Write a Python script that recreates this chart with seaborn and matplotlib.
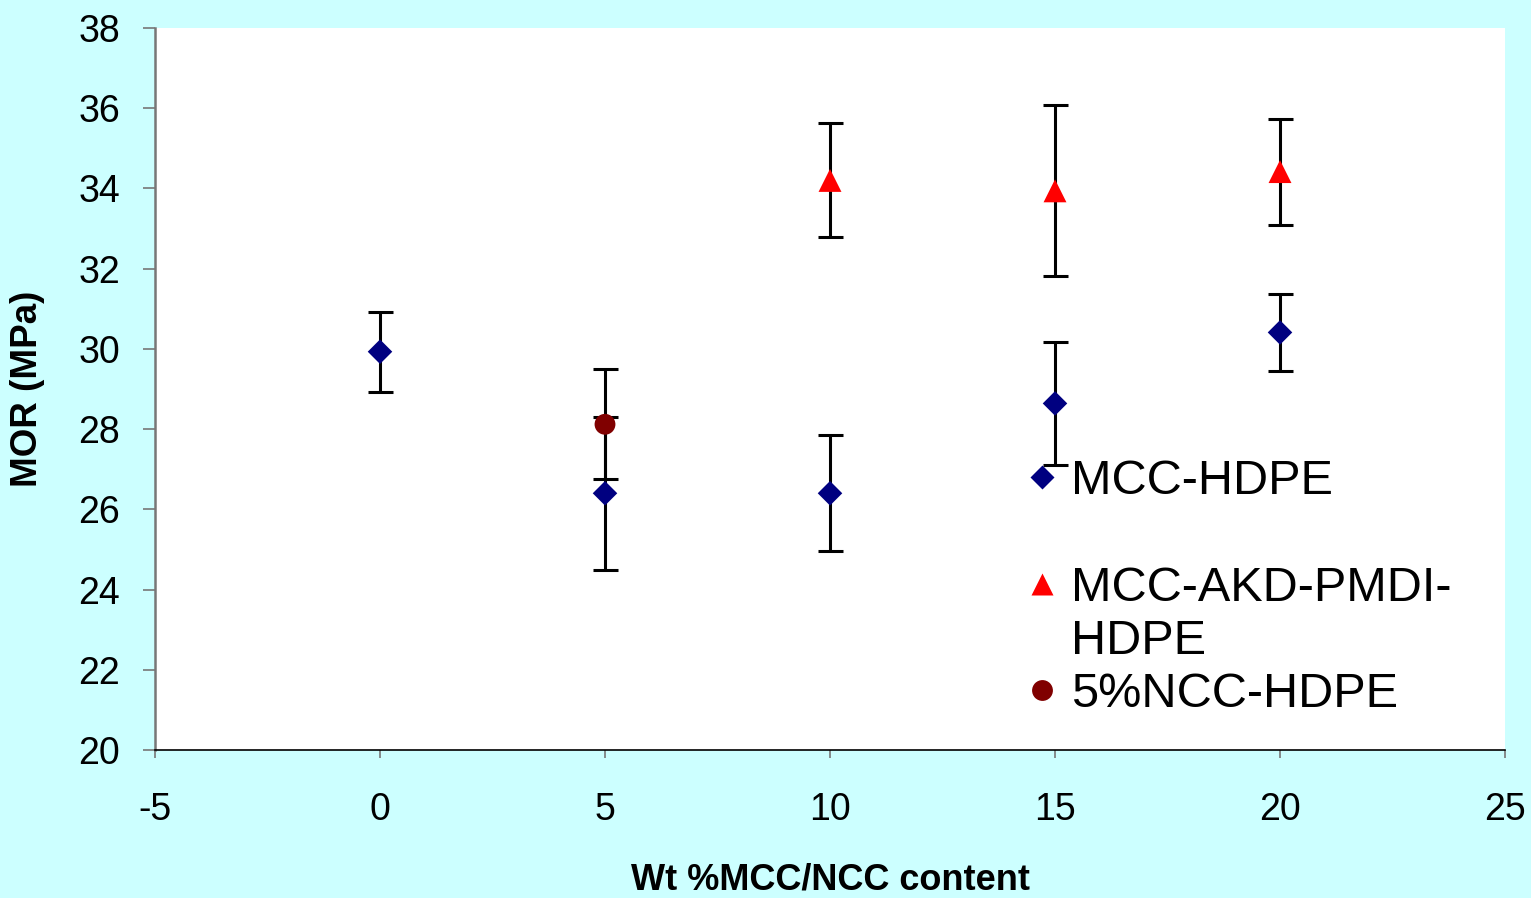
import numpy as np
import pandas as pd
import matplotlib
matplotlib.use("Agg")
import matplotlib.pyplot as plt
import seaborn as sns
from matplotlib.lines import Line2D

# ---- data ----
series_names = ["MCC-HDPE", "MCC-AKD-PMDI-HDPE", "5%NCC-HDPE"]

mcc_x = [0, 5, 10, 15, 20]
mcc_y = [29.93, 26.40, 26.40, 28.64, 30.41]
mcc_err = [1.00, 1.90, 1.45, 1.53, 0.97]

akd_x = [10, 15, 20]
akd_y = [34.20, 33.94, 34.42]
akd_err = [1.42, 2.13, 1.32]

ncc_x = [5]
ncc_y = [28.12]
ncc_err = [1.37]

x_ticks = [-5, 0, 5, 10, 15, 20, 25]
y_ticks = [20, 22, 24, 26, 28, 30, 32, 34, 36, 38]

x_label = "Wt %MCC/NCC content"
y_label = "MOR (MPa)"

# ---- style ----
sns.set_style("ticks")
plt.rcParams["font.family"] = ["Liberation Sans", "DejaVu Sans"]
plt.rcParams["text.color"] = "black"
plt.rcParams["axes.labelcolor"] = "black"
plt.rcParams["xtick.color"] = "black"
plt.rcParams["ytick.color"] = "black"

colors = {"MCC-HDPE": "#000080", "MCC-AKD-PMDI-HDPE": "#FF0000", "5%NCC-HDPE": "#800000"}
markers = {"MCC-HDPE": "D", "MCC-AKD-PMDI-HDPE": "^", "5%NCC-HDPE": "o"}
msizes = {"MCC-HDPE": 12.5, "MCC-AKD-PMDI-HDPE": 16.5, "5%NCC-HDPE": 15}

fig = plt.figure(figsize=(15.31, 8.98), dpi=100)
fig.patch.set_facecolor("#CCFFFF")
ax = fig.add_axes([155 / 1531, 1 - 750 / 898, 1350 / 1531, 722 / 898])
ax.set_facecolor("white")

data = [
    ("MCC-HDPE", mcc_x, mcc_y, mcc_err),
    ("MCC-AKD-PMDI-HDPE", akd_x, akd_y, akd_err),
    ("5%NCC-HDPE", ncc_x, ncc_y, ncc_err),
]

for name, xs, ys, es in data:
    ax.errorbar(xs, ys, yerr=es, fmt="none", ecolor="black",
                elinewidth=2.2, capsize=9, capthick=2.2, zorder=2)

for name, xs, ys, es in data:
    df = pd.DataFrame({"x": xs, "y": ys, "series": name})
    sns.scatterplot(data=df, x="x", y="y", marker=markers[name],
                    color=colors[name], s=msizes[name] ** 2,
                    edgecolor="none", linewidth=0, ax=ax, zorder=3, legend=False)

ax.set_xlim(-5, 25)
ax.set_ylim(20, 38)
ax.set_xticks(x_ticks)
ax.set_yticks(y_ticks)
ax.set_xticklabels([str(t) for t in x_ticks], fontsize=27, color="black")
ax.set_yticklabels([str(t) for t in y_ticks], fontsize=27, color="black")
ax.tick_params(axis="y", direction="out", length=9, width=1.2, color="#777777", pad=16)
ax.tick_params(axis="x", direction="out", length=6, width=1.2, color="#777777", pad=24)

for s in ["top", "right"]:
    ax.spines[s].set_visible(False)
ax.spines["left"].set_color("#777777")
ax.spines["left"].set_linewidth(1.8)
ax.spines["bottom"].set_color("black")
ax.spines["bottom"].set_linewidth(1.2)

ax.set_xlabel(x_label, fontsize=26, fontweight="bold", labelpad=25, color="black")
ax.set_ylabel(y_label, fontsize=26.5, fontweight="bold", labelpad=24, color="black")

handles = [
    Line2D([], [], ls="none", marker=markers["MCC-HDPE"], color=colors["MCC-HDPE"], ms=12, mec="none"),
    Line2D([], [], ls="none"),
    Line2D([], [], ls="none", marker=markers["MCC-AKD-PMDI-HDPE"], color=colors["MCC-AKD-PMDI-HDPE"], ms=16.5, mec="none"),
    Line2D([], [], ls="none"),
    Line2D([], [], ls="none", marker=markers["5%NCC-HDPE"], color=colors["5%NCC-HDPE"], ms=15, mec="none"),
]
labels = [series_names[0], " ", "MCC-AKD-PMDI-", "HDPE", series_names[2]]
leg = ax.legend(handles, labels, loc="upper left",
                bbox_to_anchor=(1030 / 1531, 1 - 459 / 898),
                bbox_transform=fig.transFigure, frameon=False,
                fontsize=35, borderpad=0, borderaxespad=0,
                handlelength=0.5, handletextpad=0.35, labelspacing=0.17)
for t in leg.get_texts():
    t.set_color("black")

fig.savefig("out.png", dpi=100, facecolor=fig.get_facecolor())
